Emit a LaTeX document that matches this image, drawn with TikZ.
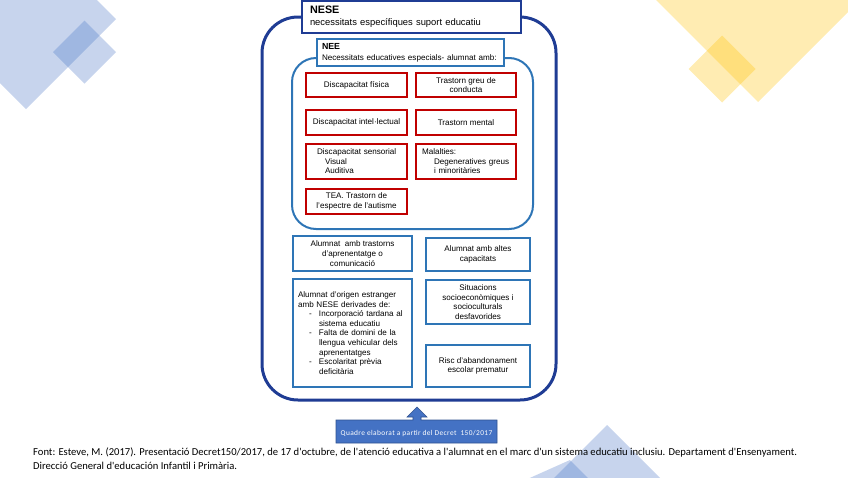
\documentclass[tikz,border=0pt]{standalone}
\usepackage{fontspec}
\setmainfont{Liberation Sans}
\newfontfamily\capfont{Carlito}
\newfontfamily\callfont[LetterSpace=5]{Carlito}
\definecolor{dkblue}{HTML}{1F3C94}
\definecolor{mdblue}{HTML}{2E75B6}
\definecolor{rd}{HTML}{C00000}
\definecolor{decoblue}{HTML}{4472C4}
\definecolor{decoyellow}{HTML}{FFC000}
\definecolor{calloutedge}{HTML}{2F528F}
\tikzset{
  boxfont/.style={font=\fontsize{8.1}{9.6}\selectfont},
  redbox/.style={draw=rd, line width=1.5pt, fill=white, inner sep=0pt, boxfont, align=center},
  bluebox/.style={draw=mdblue, line width=2pt, fill=white, inner sep=0pt, boxfont, align=center},
  decoB/.style={fill=decoblue, fill opacity=0.3, draw=none},
  decoY/.style={fill=decoyellow, fill opacity=0.3, draw=none},
  captext/.style={font=\capfont\fontsize{10.6}{12}\selectfont, anchor=west, inner sep=0pt}
}
\begin{document}
\begin{tikzpicture}[x=1pt,y=-1pt]
\useasboundingbox (0,0) rectangle (848,477);
% decorations
\begin{scope}
\clip (0,0) rectangle (848,477);
\fill[decoB] (116,19) -- (26,109) -- (-64,19) -- (26,-71) -- cycle;
\fill[decoB] (116,52) -- (84.5,83.5) -- (53,52) -- (84.5,20.5) -- cycle;
\fill[decoY] (865,-5) -- (758,102) -- (651,-5) -- (758,-112) -- cycle;
\fill[decoY] (755.5,69) -- (722,102.5) -- (688.5,69) -- (722,35.5) -- cycle;
\fill[decoB] (607,425) -- (717,535) -- (607,645) -- (497,535) -- cycle;
\fill[decoB] (570,460) -- (600,490) -- (540,520) -- (514,485) -- cycle;
\end{scope}
% outer group
\node[draw=dkblue, line width=3pt, rounded corners=36pt, minimum width=294pt, minimum height=383pt] (outer) at (409,208.5) {};
\node[draw=dkblue, line width=2.5pt, fill=white, minimum width=219pt, minimum height=32pt, text width=203pt, inner sep=0pt, align=left, font=\fontsize{9.4}{12}\selectfont] (nese) at (411.5,17)
  {{\fontsize{10.8}{12}\selectfont\bfseries NESE}\\necessitats específiques suport educatiu};
% inner group
\node[draw=mdblue, line width=2pt, rounded corners=24pt, minimum width=241pt, minimum height=171pt] (inner) at (412.5,143.5) {};
\node[draw=mdblue, line width=2pt, fill=white, minimum width=187pt, minimum height=27pt, text width=177pt, inner sep=0pt, align=left, font=\fontsize{8.1}{11}\selectfont] (nee) at (410.5,52.5)
  {{\fontsize{8.8}{11}\selectfont\bfseries NEE}\\Necessitats educatives especials- alumnat amb:};
% red boxes
\node[redbox, minimum width=101pt, minimum height=24pt] (fisica) at (356.5,85) {Discapacitat física};
\node[redbox, minimum width=100pt, minimum height=24pt] (conducta) at (466,85) {Trastorn greu de\\conducta};
\node[redbox, minimum width=101pt, minimum height=25pt] (intel) at (356.5,122.5) {Discapacitat intel·lectual};
\node[redbox, minimum width=100pt, minimum height=25pt] (mental) at (466,122.5) {Trastorn mental};
\node[redbox, minimum width=101pt, minimum height=35pt, text width=97pt, align=left] (sensorial) at (356.5,161.5)
  {\hspace*{9pt}Discapacitat sensorial\\\hspace*{17pt}Visual\\\hspace*{17pt}Auditiva};
\node[redbox, minimum width=100pt, minimum height=35pt, text width=96pt, align=left] (malalties) at (466,161.5)
  {\hspace*{4pt}Malalties:\\\hspace*{16pt}Degeneratives greus\\\hspace*{16pt}i minoritàries};
\node[redbox, minimum width=101pt, minimum height=25pt] (tea) at (356.5,201.5) {TEA. Trastorn de\\l'espectre de l'autisme};
% blue boxes
\node[bluebox, minimum width=119pt, minimum height=35pt] (aprenent) at (352.5,253.5) {Alumnat\ \ amb trastorns\\d'aprenentatge o\\comunicació};
\node[bluebox, minimum width=104pt, minimum height=33pt] (altes) at (478,254.5) {Alumnat amb altes\\capacitats};
\node[bluebox, minimum width=119pt, minimum height=108pt, text width=109pt, align=left] (origen) at (352.5,333)
  {Alumnat d'origen estranger\\amb NESE derivades de:\\
   \hspace*{11pt}\makebox[10pt][l]{-}Incorporació tardana al\\
   \hspace*{21pt}sistema educatiu\\
   \hspace*{11pt}\makebox[10pt][l]{-}Falta de domini de la\\
   \hspace*{21pt}llengua vehicular dels\\
   \hspace*{21pt}aprenentatges\\
   \hspace*{11pt}\makebox[10pt][l]{-}Escolaritat prèvia\\
   \hspace*{21pt}deficitària};
\node[bluebox, minimum width=104pt, minimum height=44pt] (situacions) at (478,302) {Situacions\\socioeconòmiques i\\socioculturals\\desfavorides};
\node[bluebox, minimum width=104pt, minimum height=42pt] (risc) at (478,366) {Risc d'abandonament\\escolar prematur};
% callout
\draw[fill=decoblue, draw=calloutedge, line width=0.6pt] (336,443) -- (336,420) -- (413,420) -- (413,417) -- (407,417) -- (417,407) -- (427,417) -- (421,417) -- (421,420) -- (497,420) -- (497,443) -- cycle;
\node[text=white, inner sep=0pt, font=\callfont\fontsize{7.4}{8}\selectfont] (calltext) at (416.5,434) {Quadre elaborat a partir del Decret\ \ 150/2017};
% caption
\node[captext] (cap1) at (33,452) {Font: Esteve, M. (2017). Presentació Decret150/2017, de 17 d'octubre, de l'atenció educativa a l'alumnat en el marc d'un sistema educatiu inclusiu. Departament d'Ensenyament.};
\node[captext] (cap2) at (33,466) {Direcció General d'educación Infantil i Primària.};
\end{tikzpicture}
\end{document}
